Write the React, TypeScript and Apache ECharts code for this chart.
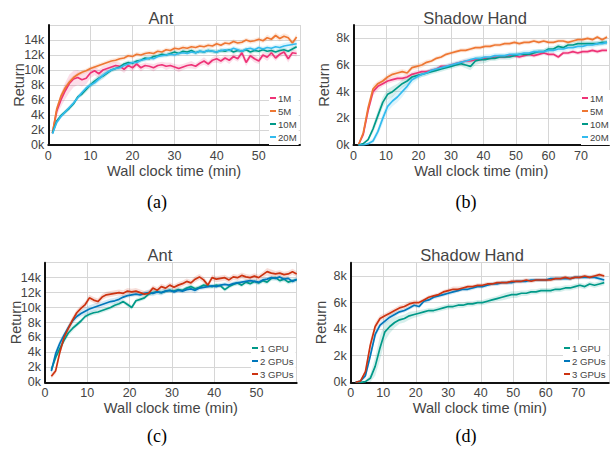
import React, { useEffect, useRef } from 'react';
import * as echarts from 'echarts';

// sampling times (minutes)
const antTimesA = Array.from({ length: 59 }, (_, i) => i + 1);
const handTimes = Array.from({ length: 52 }, (_, i) => (i + 1) * 1.5);
const antTimesC = Array.from({ length: 59 }, (_, i) => i + 1.5);

// (a) Ant, replay sizes (mean return, k)
const antA_1M = [1.6, 4.5, 6.0, 7.2, 8.2, 8.8, 9.0, 8.7, 8.9, 9.6, 9.9, 9.5, 10.0, 10.2, 10.4, 10.6, 10.5, 10.1, 10.6, 10.3, 10.8, 10.3, 10.6, 10.5, 10.3, 10.6, 10.7, 10.5, 10.6, 10.4, 10.2, 10.4, 10.6, 10.7, 10.5, 10.9, 11.2, 10.8, 11.3, 11.5, 11.2, 11.6, 11.3, 11.8, 11.5, 12.3, 11.0, 11.9, 11.5, 11.2, 12.0, 11.7, 12.3, 11.6, 12.1, 12.4, 11.5, 12.3, 12.2];
const antA_5M = [1.6, 4.8, 6.5, 7.6, 8.4, 9.0, 9.4, 9.7, 9.9, 10.2, 10.4, 10.6, 10.8, 11.0, 11.2, 11.3, 11.5, 11.6, 11.9, 11.8, 12.1, 12.0, 12.2, 12.3, 12.2, 12.5, 12.4, 12.7, 12.6, 12.9, 12.8, 13.0, 12.9, 13.1, 13.0, 13.2, 13.1, 13.3, 13.2, 13.5, 13.3, 13.6, 13.5, 13.8, 13.6, 13.7, 14.0, 13.8, 13.9, 14.1, 13.9, 14.3, 14.1, 14.6, 14.2, 14.5, 14.3, 13.6, 14.4];
const antA_10M = [1.6, 3.2, 3.9, 4.4, 4.9, 5.5, 6.4, 6.8, 7.4, 8.0, 8.5, 8.9, 9.2, 9.6, 10.0, 10.2, 10.4, 10.8, 11.0, 10.9, 11.2, 11.3, 11.6, 11.5, 11.8, 11.9, 12.1, 12.0, 12.2, 12.4, 12.2, 12.5, 12.4, 12.6, 12.3, 12.5, 12.4, 12.6, 12.5, 12.4, 12.6, 12.5, 12.7, 12.4, 12.6, 12.5, 12.7, 12.4, 12.6, 12.5, 12.7, 12.5, 12.6, 12.4, 12.6, 12.7, 12.5, 12.8, 13.1];
const antA_20M = [1.5, 3.0, 3.8, 4.4, 5.0, 5.6, 6.3, 7.0, 7.6, 8.0, 8.3, 8.8, 9.3, 9.7, 10.0, 10.2, 10.3, 10.6, 10.8, 11.0, 11.0, 11.3, 11.4, 11.6, 11.5, 11.8, 11.9, 12.0, 12.1, 12.0, 12.2, 12.3, 12.2, 12.4, 12.3, 12.5, 12.4, 12.6, 12.5, 12.4, 12.6, 12.7, 12.6, 12.9, 12.7, 12.5, 12.8, 12.9, 12.7, 13.0, 12.8, 13.0, 12.9, 13.1, 13.0, 13.2, 13.3, 13.4, 13.5];
// (a) shaded spread (k)
const antA_1M_sd = [0.2, 0.6, 0.9, 1.1, 1.2, 1.1, 1.0, 0.9, 0.8, 0.7, 0.6, 0.6, 0.5, 0.5, 0.6, 0.5, 0.5, 0.5, 0.4, 0.5, 0.4, 0.5, 0.4, 0.4, 0.5, 0.4, 0.4, 0.5, 0.4, 0.4, 0.5, 0.4, 0.4, 0.5, 0.4, 0.4, 0.5, 0.4, 0.4, 0.5, 0.4, 0.4, 0.5, 0.4, 0.4, 0.6, 0.5, 0.4, 0.5, 0.4, 0.4, 0.5, 0.5, 0.4, 0.4, 0.5, 0.5, 0.4, 0.4];
const antA_5M_sd = [0.2, 0.4, 0.4, 0.4, 0.4, 0.3, 0.3, 0.3, 0.3, 0.3, 0.3, 0.3, 0.3, 0.3, 0.3, 0.3, 0.3, 0.3, 0.3, 0.3, 0.3, 0.3, 0.3, 0.3, 0.3, 0.3, 0.3, 0.3, 0.3, 0.3, 0.3, 0.3, 0.3, 0.3, 0.3, 0.3, 0.3, 0.3, 0.3, 0.3, 0.3, 0.3, 0.3, 0.3, 0.3, 0.3, 0.3, 0.3, 0.3, 0.3, 0.3, 0.4, 0.3, 0.4, 0.4, 0.4, 0.4, 0.4, 0.4];
const antA_10M_sd = [0.2, 0.3, 0.3, 0.3, 0.3, 0.3, 0.3, 0.3, 0.4, 0.4, 0.4, 0.4, 0.4, 0.3, 0.3, 0.3, 0.3, 0.3, 0.3, 0.3, 0.3, 0.3, 0.3, 0.3, 0.3, 0.3, 0.3, 0.3, 0.3, 0.3, 0.3, 0.3, 0.3, 0.3, 0.3, 0.3, 0.3, 0.3, 0.3, 0.3, 0.3, 0.3, 0.3, 0.3, 0.3, 0.3, 0.3, 0.3, 0.3, 0.3, 0.3, 0.3, 0.3, 0.3, 0.3, 0.3, 0.3, 0.3, 0.3];
const antA_20M_sd = [0.2, 0.3, 0.3, 0.3, 0.3, 0.3, 0.3, 0.3, 0.3, 0.3, 0.4, 0.4, 0.4, 0.4, 0.3, 0.3, 0.3, 0.3, 0.3, 0.3, 0.3, 0.3, 0.3, 0.3, 0.3, 0.3, 0.3, 0.3, 0.3, 0.3, 0.3, 0.3, 0.3, 0.3, 0.3, 0.3, 0.3, 0.3, 0.3, 0.3, 0.3, 0.3, 0.3, 0.3, 0.3, 0.3, 0.3, 0.3, 0.3, 0.3, 0.3, 0.3, 0.3, 0.3, 0.4, 0.4, 0.4, 0.4, 0.4];

// (b) Shadow Hand, replay sizes (mean return, k)
const handB_1M = [0.0, 0.8, 2.6, 4.0, 4.4, 4.6, 4.8, 4.9, 5.0, 5.0, 5.1, 5.3, 5.4, 5.5, 5.5, 5.6, 5.7, 5.9, 5.9, 6.0, 6.1, 6.2, 6.3, 6.3, 6.4, 6.4, 6.5, 6.5, 6.6, 6.6, 6.6, 6.7, 6.7, 6.6, 6.7, 6.8, 6.7, 6.8, 6.9, 6.8, 6.8, 6.6, 6.9, 6.9, 7.0, 6.9, 7.0, 7.0, 7.1, 7.0, 7.1, 7.1];
const handB_5M = [0.0, 0.9, 2.8, 4.2, 4.6, 4.8, 5.1, 5.3, 5.4, 5.5, 5.4, 5.8, 5.9, 6.0, 6.2, 6.3, 6.5, 6.6, 6.8, 6.9, 7.0, 7.1, 7.1, 7.2, 7.3, 7.3, 7.4, 7.4, 7.5, 7.5, 7.6, 7.6, 7.7, 7.6, 7.7, 7.7, 7.8, 7.7, 7.8, 7.7, 7.7, 7.8, 7.8, 7.7, 7.8, 7.9, 7.9, 8.0, 7.9, 8.1, 7.9, 8.1];
const handB_10M = [0.0, 0.1, 0.4, 1.2, 2.2, 3.2, 3.8, 4.0, 4.3, 4.6, 4.8, 5.1, 5.2, 5.3, 5.4, 5.5, 5.6, 5.7, 5.8, 5.9, 6.0, 6.1, 6.0, 5.9, 6.3, 6.4, 6.4, 6.5, 6.5, 6.6, 6.6, 6.6, 6.7, 6.8, 6.8, 6.8, 6.9, 7.0, 7.0, 7.2, 7.2, 7.4, 7.3, 7.5, 7.5, 7.6, 7.6, 7.6, 7.6, 7.6, 7.7, 7.7];
const handB_20M = [0.0, 0.0, 0.1, 0.3, 1.0, 2.0, 2.9, 3.3, 3.6, 4.0, 4.4, 4.9, 5.1, 5.3, 5.4, 5.6, 5.7, 5.8, 5.9, 6.0, 6.1, 6.2, 6.3, 6.4, 6.5, 6.5, 6.6, 6.6, 6.7, 6.7, 6.7, 6.8, 6.8, 6.8, 6.9, 6.9, 7.0, 7.0, 7.0, 7.1, 7.1, 7.2, 7.2, 7.3, 7.3, 7.4, 7.4, 7.5, 7.5, 7.6, 7.6, 7.7];
// (b) shaded spread (k)
const handB_1M_sd = [0.0, 0.2, 0.3, 0.3, 0.3, 0.2, 0.2, 0.2, 0.2, 0.2, 0.2, 0.2, 0.2, 0.15, 0.15, 0.15, 0.15, 0.15, 0.15, 0.15, 0.15, 0.15, 0.15, 0.2, 0.15, 0.15, 0.15, 0.15, 0.15, 0.15, 0.15, 0.15, 0.15, 0.15, 0.15, 0.15, 0.15, 0.15, 0.15, 0.15, 0.15, 0.15, 0.15, 0.15, 0.15, 0.15, 0.15, 0.15, 0.15, 0.15, 0.15, 0.15];
const handB_5M_sd = [0.0, 0.2, 0.3, 0.3, 0.2, 0.2, 0.2, 0.2, 0.2, 0.2, 0.2, 0.2, 0.2, 0.2, 0.2, 0.15, 0.15, 0.15, 0.15, 0.15, 0.15, 0.15, 0.15, 0.15, 0.15, 0.15, 0.15, 0.15, 0.15, 0.15, 0.15, 0.15, 0.15, 0.15, 0.15, 0.15, 0.15, 0.15, 0.15, 0.15, 0.15, 0.15, 0.15, 0.15, 0.15, 0.15, 0.15, 0.15, 0.15, 0.15, 0.15, 0.15];
const handB_10M_sd = [0.0, 0.05, 0.1, 0.3, 0.4, 0.4, 0.4, 0.4, 0.3, 0.3, 0.3, 0.3, 0.25, 0.2, 0.2, 0.2, 0.2, 0.2, 0.2, 0.2, 0.2, 0.2, 0.25, 0.3, 0.3, 0.3, 0.25, 0.2, 0.2, 0.2, 0.2, 0.2, 0.2, 0.2, 0.2, 0.2, 0.2, 0.2, 0.2, 0.2, 0.2, 0.2, 0.2, 0.2, 0.2, 0.2, 0.2, 0.2, 0.2, 0.2, 0.2, 0.2];
const handB_20M_sd = [0.0, 0.05, 0.1, 0.2, 0.3, 0.4, 0.4, 0.4, 0.4, 0.4, 0.3, 0.3, 0.25, 0.2, 0.2, 0.2, 0.2, 0.2, 0.2, 0.2, 0.2, 0.2, 0.2, 0.2, 0.2, 0.2, 0.2, 0.2, 0.2, 0.2, 0.2, 0.2, 0.2, 0.2, 0.2, 0.2, 0.2, 0.2, 0.2, 0.2, 0.2, 0.2, 0.2, 0.2, 0.2, 0.2, 0.2, 0.2, 0.2, 0.2, 0.2, 0.2];

// (c) Ant, GPU count (mean return, k)
const antC_1 = [1.7, 3.3, 4.5, 5.6, 6.6, 7.2, 7.7, 8.2, 8.8, 9.1, 9.3, 9.4, 9.6, 9.8, 10.0, 10.3, 10.5, 10.8, 10.4, 10.0, 10.9, 11.1, 11.3, 11.8, 12.0, 12.1, 12.0, 12.2, 12.3, 12.2, 12.4, 12.3, 12.6, 12.8, 12.5, 12.7, 13.0, 12.9, 12.8, 13.0, 12.9, 12.4, 12.8, 13.1, 13.3, 13.0, 13.4, 13.2, 13.5, 13.3, 13.6, 13.4, 13.9, 14.0, 13.6, 13.8, 13.4, 13.6, 13.7];
const antC_2 = [1.5, 3.8, 5.2, 6.3, 7.3, 8.2, 8.8, 9.2, 9.5, 9.8, 10.0, 10.2, 10.4, 10.6, 10.8, 10.9, 11.1, 11.4, 11.6, 11.7, 11.8, 11.7, 11.9, 12.0, 11.9, 12.1, 12.0, 12.2, 12.3, 12.1, 12.3, 12.2, 12.4, 12.5, 12.3, 12.6, 12.7, 12.8, 12.9, 12.8, 13.0, 13.1, 13.0, 13.2, 13.3, 13.4, 13.5, 13.6, 13.5, 13.4, 13.7, 13.8, 14.0, 13.9, 14.1, 13.8, 13.9, 13.5, 13.8];
const antC_3 = [0.8, 1.5, 4.0, 6.0, 7.2, 8.3, 9.3, 9.9, 10.4, 11.3, 11.0, 10.8, 11.4, 11.7, 11.8, 11.9, 12.0, 11.9, 12.2, 12.1, 12.2, 12.0, 11.8, 11.9, 12.6, 12.3, 12.8, 12.6, 13.0, 12.7, 13.0, 13.2, 13.5, 13.3, 13.8, 14.1, 13.7, 13.0, 14.0, 13.8, 13.9, 14.0, 13.7, 14.1, 14.0, 14.3, 14.1, 14.0, 14.2, 14.0, 14.4, 14.8, 14.6, 14.5, 14.6, 14.4, 14.5, 14.8, 14.5];
// (c) shaded spread (k)
const antC_1_sd = [0.3, 0.4, 0.4, 0.4, 0.4, 0.4, 0.3, 0.3, 0.3, 0.3, 0.3, 0.3, 0.3, 0.3, 0.3, 0.3, 0.3, 0.3, 0.3, 0.3, 0.3, 0.3, 0.3, 0.3, 0.3, 0.3, 0.3, 0.3, 0.3, 0.3, 0.3, 0.3, 0.3, 0.3, 0.3, 0.3, 0.3, 0.3, 0.3, 0.3, 0.3, 0.3, 0.3, 0.3, 0.3, 0.3, 0.3, 0.3, 0.3, 0.3, 0.3, 0.3, 0.3, 0.3, 0.3, 0.3, 0.3, 0.3, 0.3];
const antC_2_sd = [0.4, 0.5, 0.5, 0.4, 0.4, 0.4, 0.4, 0.4, 0.5, 0.5, 0.5, 0.5, 0.4, 0.4, 0.4, 0.4, 0.4, 0.3, 0.3, 0.3, 0.3, 0.3, 0.3, 0.4, 0.4, 0.4, 0.4, 0.3, 0.3, 0.3, 0.3, 0.3, 0.4, 0.4, 0.4, 0.3, 0.3, 0.3, 0.3, 0.3, 0.3, 0.3, 0.3, 0.3, 0.3, 0.3, 0.3, 0.3, 0.3, 0.3, 0.3, 0.3, 0.3, 0.3, 0.3, 0.3, 0.3, 0.3, 0.3];
const antC_3_sd = [0.3, 0.4, 0.5, 0.5, 0.5, 0.5, 0.4, 0.4, 0.4, 0.4, 0.4, 0.4, 0.4, 0.4, 0.4, 0.4, 0.4, 0.4, 0.4, 0.4, 0.4, 0.4, 0.4, 0.4, 0.4, 0.4, 0.4, 0.4, 0.4, 0.4, 0.4, 0.4, 0.4, 0.4, 0.4, 0.4, 0.4, 0.4, 0.4, 0.4, 0.4, 0.4, 0.4, 0.4, 0.4, 0.4, 0.4, 0.4, 0.4, 0.4, 0.4, 0.5, 0.5, 0.4, 0.4, 0.4, 0.4, 0.4, 0.4];

// (d) Shadow Hand, GPU count (mean return, k)
const handD_1 = [0.0, 0.0, 0.05, 0.3, 1.2, 2.6, 3.8, 4.2, 4.5, 4.7, 4.8, 5.0, 5.1, 5.2, 5.3, 5.4, 5.4, 5.5, 5.6, 5.7, 5.7, 5.8, 5.8, 5.9, 5.9, 6.0, 6.0, 6.1, 6.2, 6.3, 6.4, 6.5, 6.6, 6.6, 6.7, 6.7, 6.8, 6.8, 6.9, 6.9, 6.9, 7.0, 7.0, 7.1, 7.1, 7.2, 7.3, 7.2, 7.4, 7.3, 7.4, 7.5];
const handD_2 = [0.0, 0.1, 0.5, 2.0, 3.6, 4.3, 4.6, 4.9, 5.1, 5.3, 5.4, 5.6, 5.8, 5.7, 6.1, 6.2, 6.4, 6.5, 6.6, 6.7, 6.8, 6.9, 7.0, 7.0, 7.1, 7.2, 7.2, 7.3, 7.4, 7.4, 7.5, 7.5, 7.5, 7.6, 7.6, 7.6, 7.7, 7.7, 7.7, 7.7, 7.8, 7.8, 7.8, 7.8, 7.8, 7.9, 7.9, 7.9, 7.9, 7.9, 7.8, 7.7];
const handD_3 = [0.0, 0.1, 0.8, 2.8, 4.2, 4.8, 5.0, 5.2, 5.4, 5.6, 5.7, 5.9, 6.0, 6.0, 6.2, 6.4, 6.5, 6.6, 6.8, 6.9, 7.0, 7.0, 7.1, 7.2, 7.2, 7.3, 7.3, 7.4, 7.4, 7.5, 7.5, 7.5, 7.6, 7.6, 7.6, 7.7, 7.6, 7.7, 7.7, 7.7, 7.7, 7.8, 7.8, 7.9, 7.8, 7.9, 7.9, 8.0, 7.9, 8.0, 8.1, 8.0];
// (d) shaded spread (k)
const handD_1_sd = [0.0, 0.02, 0.1, 0.3, 0.7, 0.9, 0.7, 0.5, 0.4, 0.3, 0.3, 0.3, 0.25, 0.25, 0.2, 0.2, 0.2, 0.2, 0.2, 0.2, 0.2, 0.2, 0.2, 0.2, 0.2, 0.2, 0.2, 0.2, 0.2, 0.2, 0.25, 0.25, 0.25, 0.25, 0.2, 0.2, 0.2, 0.2, 0.2, 0.2, 0.2, 0.2, 0.2, 0.2, 0.2, 0.2, 0.2, 0.2, 0.2, 0.2, 0.2, 0.2];
const handD_2_sd = [0.0, 0.05, 0.2, 0.3, 0.3, 0.2, 0.2, 0.2, 0.2, 0.15, 0.15, 0.15, 0.15, 0.15, 0.15, 0.15, 0.15, 0.15, 0.15, 0.15, 0.15, 0.15, 0.15, 0.15, 0.15, 0.15, 0.15, 0.15, 0.15, 0.15, 0.15, 0.15, 0.15, 0.15, 0.15, 0.15, 0.15, 0.15, 0.15, 0.15, 0.15, 0.15, 0.15, 0.15, 0.15, 0.15, 0.15, 0.15, 0.15, 0.15, 0.15, 0.15];
const handD_3_sd = [0.0, 0.05, 0.2, 0.4, 0.3, 0.25, 0.2, 0.2, 0.2, 0.2, 0.2, 0.2, 0.2, 0.15, 0.15, 0.15, 0.15, 0.15, 0.15, 0.15, 0.2, 0.2, 0.15, 0.15, 0.15, 0.15, 0.15, 0.15, 0.15, 0.15, 0.15, 0.15, 0.15, 0.15, 0.15, 0.15, 0.15, 0.15, 0.15, 0.15, 0.15, 0.15, 0.15, 0.15, 0.15, 0.15, 0.15, 0.15, 0.15, 0.15, 0.15, 0.15];

const bufferNames = ['1M', '5M', '10M', '20M'];
const gpuNames = ['1 GPU', '2 GPUs', '3 GPUs'];
const titles = ['Ant', 'Shadow Hand', 'Ant', 'Shadow Hand'];
const captions = ['(a)', '(b)', '(c)', '(d)'];

const C_MAGENTA = '#EE3377';
const C_ORANGE = '#EE7733';
const C_TEAL = '#009988';
const C_CYAN = '#33BBEE';
const C_BLUE = '#0077BB';
const C_RED = '#CC3311';

const FONT = '"Liberation Sans", Arial, sans-serif';
const SERIF = '"Liberation Serif", "DejaVu Serif", serif';
const TXT = '#444';

const grids = [
  { left: 48.3, top: 25, width: 251.7, height: 120 },
  { left: 353.5, top: 25, width: 255.5, height: 120 },
  { left: 45, top: 262.7, width: 251.7, height: 119.6 },
  { left: 350.8, top: 262.7, width: 258, height: 119.6 },
];
const xMax = [59.8, 78.6, 59.5, 79.4];
const yMax = [16, 9, 16, 9];
const titlePos = [
  [161, 18],
  [475, 18],
  [160, 255],
  [472, 255],
];
const captionPos = [
  [157, 202],
  [466, 202],
  [157, 436],
  [466, 436],
];
const legendPos = [
  [269, 90],
  [581, 90],
  [251, 340],
  [563, 340],
];

type Run = { name: string; color: string; panel: number; ts: number[]; vs: number[]; sd: number[] };

const runs: Run[] = [
  { name: bufferNames[0], color: C_MAGENTA, panel: 0, ts: antTimesA, vs: antA_1M, sd: antA_1M_sd },
  { name: bufferNames[1], color: C_ORANGE, panel: 0, ts: antTimesA, vs: antA_5M, sd: antA_5M_sd },
  { name: bufferNames[2], color: C_TEAL, panel: 0, ts: antTimesA, vs: antA_10M, sd: antA_10M_sd },
  { name: bufferNames[3], color: C_CYAN, panel: 0, ts: antTimesA, vs: antA_20M, sd: antA_20M_sd },
  { name: bufferNames[0], color: C_MAGENTA, panel: 1, ts: handTimes, vs: handB_1M, sd: handB_1M_sd },
  { name: bufferNames[1], color: C_ORANGE, panel: 1, ts: handTimes, vs: handB_5M, sd: handB_5M_sd },
  { name: bufferNames[2], color: C_TEAL, panel: 1, ts: handTimes, vs: handB_10M, sd: handB_10M_sd },
  { name: bufferNames[3], color: C_CYAN, panel: 1, ts: handTimes, vs: handB_20M, sd: handB_20M_sd },
  { name: gpuNames[0], color: C_TEAL, panel: 2, ts: antTimesC, vs: antC_1, sd: antC_1_sd },
  { name: gpuNames[1], color: C_BLUE, panel: 2, ts: antTimesC, vs: antC_2, sd: antC_2_sd },
  { name: gpuNames[2], color: C_RED, panel: 2, ts: antTimesC, vs: antC_3, sd: antC_3_sd },
  { name: gpuNames[0], color: C_TEAL, panel: 3, ts: handTimes, vs: handD_1, sd: handD_1_sd },
  { name: gpuNames[1], color: C_BLUE, panel: 3, ts: handTimes, vs: handD_2, sd: handD_2_sd },
  { name: gpuNames[2], color: C_RED, panel: 3, ts: handTimes, vs: handD_3, sd: handD_3_sd },
];

export default function App() {
  const ref = useRef<HTMLDivElement>(null);
  useEffect(() => {
    if (!ref.current) return;
    const chart = echarts.init(ref.current, undefined, { renderer: 'svg' });

    const xAxis = grids.map((_, i) => ({
      gridIndex: i,
      type: 'value',
      min: 0,
      max: xMax[i],
      interval: 10,
      name: 'Wall clock time (min)',
      nameLocation: 'middle',
      nameGap: 18,
      nameMoveOverlap: false,
      nameTextStyle: { color: TXT, fontSize: 14.6, fontFamily: FONT },
      axisLine: { show: true, onZero: false, lineStyle: { color: '#111', width: 2 } },
      axisTick: { show: false },
      axisLabel: {
        color: TXT,
        fontSize: 12.5,
        fontFamily: FONT,
        margin: 4,
        showMaxLabel: false,
        formatter: (v: number) => (Math.abs(v % 10) < 1e-6 ? String(v) : ''),
      },
      splitLine: { show: true, lineStyle: { color: '#d6d6d6', width: 1 } },
    }));

    const yAxis = grids.map((_, i) => ({
      gridIndex: i,
      type: 'value',
      min: 0,
      max: yMax[i],
      interval: 2,
      name: 'Return',
      nameLocation: 'middle',
      nameGap: 22,
      nameMoveOverlap: false,
      nameTextStyle: { color: TXT, fontSize: 14.5, fontFamily: FONT },
      axisLine: { show: true, onZero: false, lineStyle: { color: '#111', width: 2 } },
      axisTick: { show: false },
      axisLabel: {
        color: TXT,
        fontSize: 12.5,
        fontFamily: FONT,
        margin: 4,
        showMaxLabel: false,
        formatter: (v: number) => (Math.abs(v % 2) < 1e-6 ? `${v}k` : ''),
      },
      splitLine: { show: true, lineStyle: { color: '#d6d6d6', width: 1 } },
    }));

    const bands = runs.map((r) => ({
      type: 'custom',
      xAxisIndex: r.panel,
      yAxisIndex: r.panel,
      data: [[r.ts[0], r.vs[0]]],
      silent: true,
      clip: true,
      z: 1,
      renderItem: (_params: any, api: any) => {
        const upper = r.vs.map((v, i) => api.coord([r.ts[i], v + r.sd[i]]));
        const lower = r.vs.map((v, i) => api.coord([r.ts[i], Math.max(0, v - r.sd[i])])).reverse();
        return {
          type: 'polygon',
          shape: { points: [...upper, ...lower] },
          style: { fill: r.color, opacity: 0.16 },
        };
      },
    }));

    const lines = runs.map((r) => ({
      name: r.name,
      type: 'line',
      xAxisIndex: r.panel,
      yAxisIndex: r.panel,
      data: r.vs.map((v, i) => [r.ts[i], v]),
      showSymbol: false,
      symbol: 'none',
      lineStyle: { color: r.color, width: 1.7 },
      itemStyle: { color: r.color },
      z: 3,
    }));

    const legend = legendPos.map((p, i) => ({
      data: i < 2 ? bufferNames : gpuNames,
      orient: 'vertical',
      left: p[0],
      top: p[1],
      icon: 'rect',
      itemWidth: 6,
      itemHeight: 2,
      itemGap: 1,
      padding: [2, 2, 2, 1],
      backgroundColor: '#ffffff',
      selectedMode: false,
      textStyle: { color: TXT, fontSize: 9.6, fontFamily: FONT, lineHeight: 12, padding: [0, 0, 0, -3] },
    }));

    const graphic = [
      ...titles.map((t, i) => ({
        type: 'text',
        x: titlePos[i][0],
        y: titlePos[i][1],
        style: { text: t, fill: TXT, font: `16.5px ${FONT}`, textAlign: 'center', textVerticalAlign: 'middle' },
      })),
      ...captions.map((t, i) => ({
        type: 'text',
        x: captionPos[i][0],
        y: captionPos[i][1],
        style: { text: t, fill: '#000', font: `18px ${SERIF}`, textAlign: 'center', textVerticalAlign: 'middle' },
      })),
    ];

    chart.setOption({
      animation: false,
      backgroundColor: '#ffffff',
      grid: grids.map((g) => ({ ...g, containLabel: false })),
      xAxis,
      yAxis,
      legend,
      series: [...bands, ...lines],
      graphic,
    });
    return () => chart.dispose();
  }, []);

  return (
    <div
      ref={ref}
      style={{ position: 'absolute', left: 0, top: 0, width: 610, height: 452, background: '#fff' }}
    />
  );
}
